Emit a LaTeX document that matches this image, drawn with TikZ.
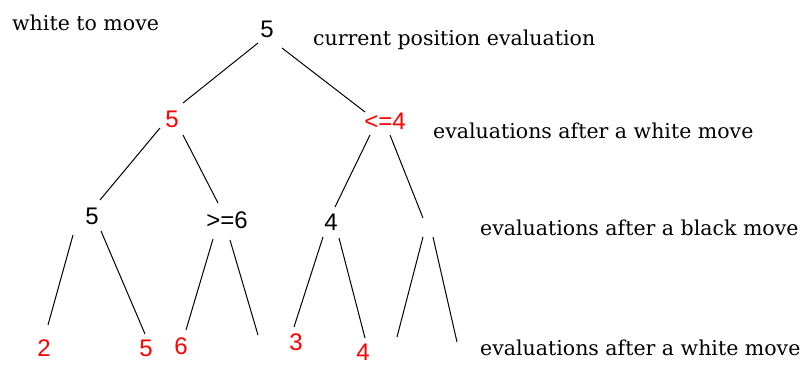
\documentclass[tikz,border=0pt]{standalone}
\usepackage{fontspec}
\setmainfont{DejaVu Serif}
\newfontfamily\numfont{Liberation Sans}
\usetikzlibrary{calc}
\definecolor{evred}{RGB}{255,0,0}
\begin{document}
\begin{tikzpicture}[x=1pt,y=-1pt,
  val/.style={inner sep=0pt, font=\numfont\fontsize{24}{24}\selectfont},
  wval/.style={val, text=evred},
  bval/.style={val, text=black},
  lbl/.style={anchor=base west, inner sep=0pt, font=\fontsize{20.5}{20.5}\selectfont},
  edge/.style={line width=1pt, black}]
\fill[white] (0,0) rectangle (806,365);
\useasboundingbox (0,0) rectangle (806,365);

% labels
\node[lbl] (tomove) at (12,30) {white to move};
\node[lbl] (lab0) at (313,45) {current position evaluation};
\node[lbl] (lab1) at (433,138) {evaluations after a white move};
\node[lbl] (lab2) at (480,235) {evaluations after a black move};
\node[lbl] (lab3) at (480,355) {evaluations after a white move};

% tree values
\node[bval] (R) at (267,29) {5};
\node[wval] (A) at (172,119) {5};
\node[wval] (B) at (385,121) {<=4};
\node[bval] (C) at (92,216) {5};
\node[bval] (D) at (227,220) {>=6};
\node[bval] (E) at (331,222) {4};
\coordinate (F) at (428,227);
\node[wval] (L1) at (44,348) {2};
\node[wval] (L2) at (146,348) {5};
\node[wval] (L3) at (181,346) {6};
\coordinate (L4) at (258,335);
\node[wval] (L5) at (296,342) {3};
\node[wval] (L6) at (363,352) {4};
\coordinate (L7) at (397,337);
\coordinate (L8) at (457,342);

% connectors
\draw[edge] ($(R)+(-9,14)$) -- ($(A)+(11,-16)$);
\draw[edge] ($(R)+(15,19)$) -- ($(B)+(-20,-9)$);
\draw[edge] ($(A)+(-12,9)$) -- ($(C)+(8,-16)$);
\draw[edge] ($(A)+(11,16)$) -- ($(D)+(-9,-17)$);
\draw[edge] ($(B)+(-15,14)$) -- ($(E)+(4,-15)$);
\draw[edge] ($(B)+(5,14)$) -- ($(F)+(-5,-9)$);
\draw[edge] ($(C)+(-19,19)$) -- ($(L1)+(4,-23)$);
\draw[edge] ($(C)+(9,15)$) -- ($(L2)+(-1,-14)$);
\draw[edge] ($(D)+(-14,19)$) -- ($(L3)+(5,-16)$);
\draw[edge] ($(D)+(3,20)$) -- (L4);
\draw[edge] ($(E)+(-8,15)$) -- ($(L5)+(-2,-15)$);
\draw[edge] ($(E)+(8,16)$) -- ($(L6)+(2,-14)$);
\draw[edge] ($(F)+(-5,10)$) -- (L7);
\draw[edge] ($(F)+(5,10)$) -- (L8);
\end{tikzpicture}
\end{document}
